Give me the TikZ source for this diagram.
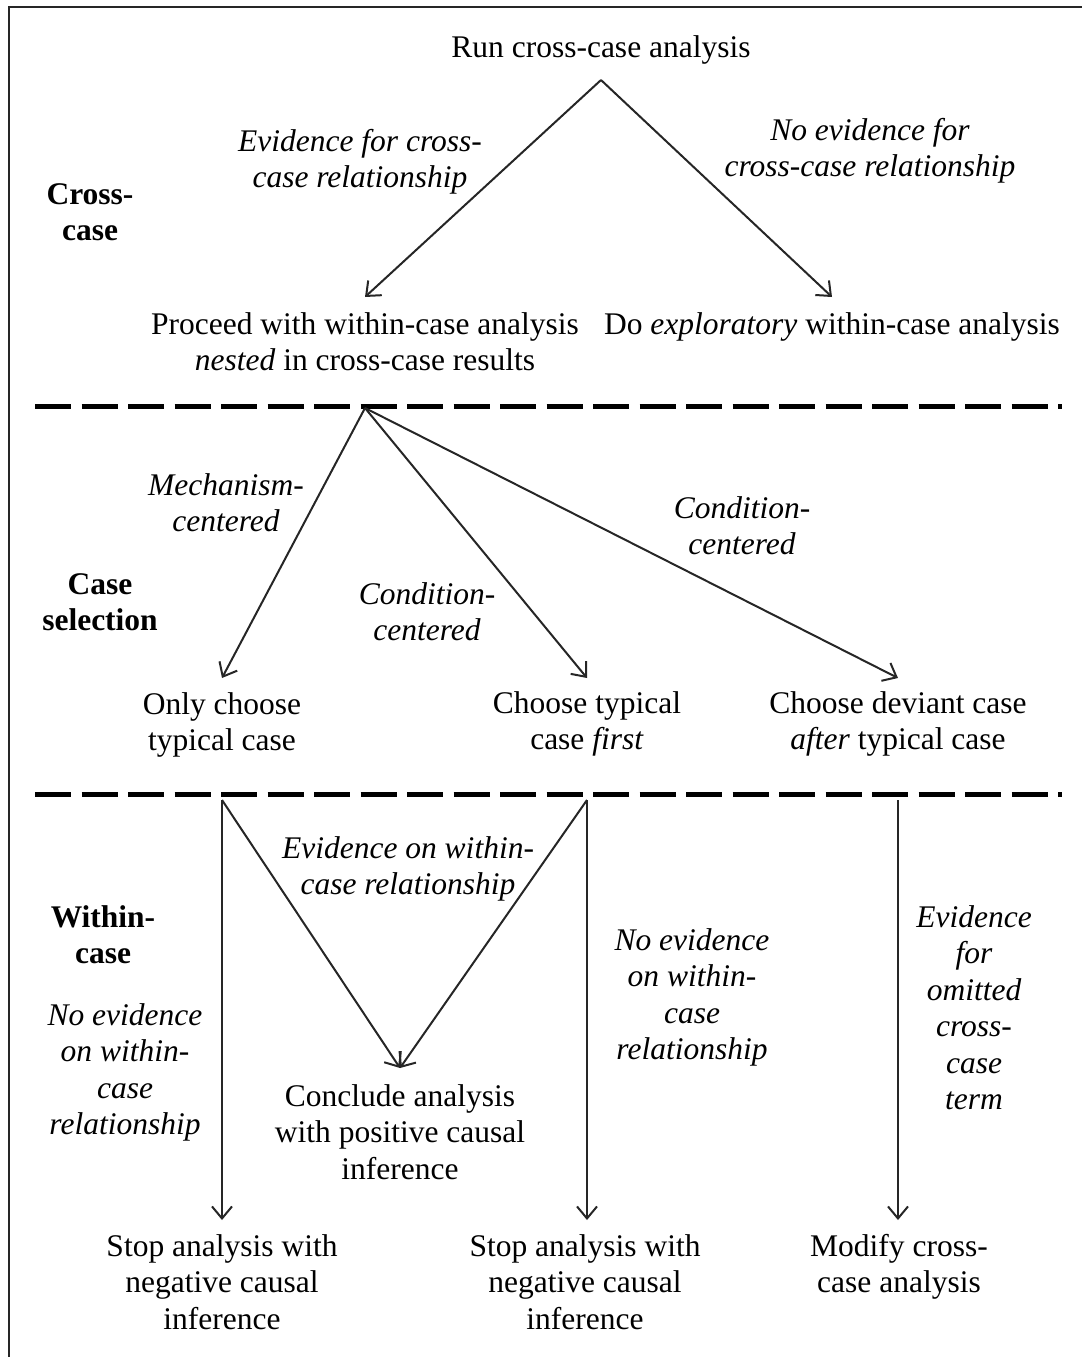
\documentclass[tikz,border=0pt]{standalone}
\usepackage{fontspec}
\setmainfont{Liberation Serif}
\usetikzlibrary{arrows.meta}
\begin{document}
\begin{tikzpicture}[x=1pt,y=-1pt,
  % multi-line nodes are anchored at the baseline of their last line
  txt/.style={align=center, inner sep=0pt, anchor=base, font=\fontsize{31.5}{36.5}\selectfont},
  lbl/.style={txt, font=\fontsize{31.5}{36.5}\selectfont\itshape},
  sec/.style={txt, font=\fontsize{31.5}{36.5}\selectfont\bfseries},
  arr/.style={line width=2pt, draw=black!85, -{Straight Barb[length=12pt,width=20pt,line width=2pt]}},
  sep/.style={line width=5pt, dash pattern=on 36pt off 10.5pt},
  frame/.style={line width=2pt, draw=black!85},
]
\useasboundingbox (0,0) rectangle (1082,1357);

% outer frame
\coordinate (fl) at (9,1357);
\coordinate (fc) at (9,7);
\coordinate (fr) at (1082,7);
\draw[frame] (fl) -- (fc) -- (fr);

% section separators
\coordinate (d1a) at (35,406);
\coordinate (d1b) at (1062,406);
\coordinate (d2a) at (35,794);
\coordinate (d2b) at (1062,794);
\draw[sep] (d1a) -- (d1b);
\draw[sep] (d2a) -- (d2b);

% ---- cross-case ----
\node[txt] (run) at (601,57) {Run cross-case analysis};
\node[lbl] (evfor) at (360,187.5) {Evidence for cross-\\case relationship};
\node[lbl] (noev) at (870,176.5) {No evidence for\\cross-case relationship};
\node[sec] (cross) at (90,240.5) {Cross-\\case};
\node[txt] (proceed) at (365,370.5) {Proceed with within-case analysis\\\textit{nested} in cross-case results};
\node[txt] (explor) at (832,334) {Do \textit{exploratory} within-case analysis};

\coordinate (top) at (601,80);
\coordinate (pA) at (365,297);
\coordinate (pB) at (832,297);
\draw[arr] (top) -- (pA);
\draw[arr] (top) -- (pB);

% ---- case selection ----
\node[lbl] (mech) at (226,531.5) {Mechanism-\\centered};
\node[lbl] (cond1) at (427,640.5) {Condition-\\centered};
\node[lbl] (cond2) at (742,554.5) {Condition-\\centered};
\node[sec] (casesel) at (100,630.5) {Case\\selection};
\node[txt] (only) at (222,750.5) {Only choose\\typical case};
\node[txt] (typfirst) at (587,749.5) {Choose typical\\case \textit{first}};
\node[txt] (deviant) at (898,749.5) {Choose deviant case\\\textit{after} typical case};

\coordinate (hub) at (365,408);
\coordinate (qA) at (222,678);
\coordinate (qB) at (587,678);
\coordinate (qC) at (898,678);
\draw[arr] (hub) -- (qA);
\draw[arr] (hub) -- (qB);
\draw[arr] (hub) -- (qC);

% ---- within-case ----
\node[lbl] (evwith) at (408,894.5) {Evidence on within-\\case relationship};
\node[sec] (within) at (103,963.5) {Within-\\case};
\node[lbl] (noevA) at (125,1134.5) {No evidence\\on within-\\case\\relationship};
\node[txt] (concl) at (400,1179) {Conclude analysis\\with positive causal\\inference};
\node[lbl] (noevB) at (692,1059.5) {No evidence\\on within-\\case\\relationship};
\node[lbl] (omit) at (974,1109.5) {Evidence\\for\\omitted\\cross-\\case\\term};
\node[txt] (stopA) at (222,1329) {Stop analysis with\\negative causal\\inference};
\node[txt] (stopB) at (585,1329) {Stop analysis with\\negative causal\\inference};
\node[txt] (modify) at (899,1292.5) {Modify cross-\\case analysis};

\coordinate (s1) at (222,800);
\coordinate (s2) at (587,800);
\coordinate (s3) at (898,800);
\coordinate (cc) at (400,1068);
\coordinate (eA) at (222,1220);
\coordinate (eB) at (587,1220);
\coordinate (eC) at (898,1220);
\draw[arr] (s1) -- (eA);
\draw[arr] (s1) -- (cc);
\draw[arr] (s2) -- (cc);
\draw[arr] (s2) -- (eB);
\draw[arr] (s3) -- (eC);
\end{tikzpicture}
\end{document}
